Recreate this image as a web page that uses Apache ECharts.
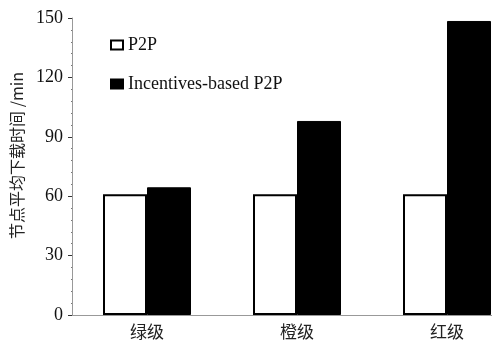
<!DOCTYPE html>
<html>
<head>
<meta charset="utf-8">
<script src="https://cdn.jsdelivr.net/npm/echarts@6/dist/echarts.min.js"></script>
<style>html,body{margin:0;padding:0;background:#fff}#c{width:492px;height:344px}</style>
</head>
<body>
<div id="c"></div>
<script>
var categories = ['绿级', '橙级', '红级'];
var p2p = [61, 61, 61];
var incentive = [64.5, 98, 148.5];
var seriesNames = ['P2P', 'Incentives-based P2P'];
var yTicks = [0, 30, 60, 90, 120, 150];

var chart = echarts.init(document.getElementById('c'));
chart.setOption({
  animation: false,
  backgroundColor: '#fff',
  grid: { left: 72, top: 18, width: 450, height: 297, outerBoundsMode: 'none', containLabel: false },
  legend: {
    orient: 'vertical', left: 105, top: 31,
    itemWidth: 12, itemHeight: 9, itemGap: 21, icon: 'rect',
    textStyle: { fontFamily: 'Liberation Serif', fontSize: 18, color: '#111' },
    data: seriesNames
  },
  xAxis: {
    type: 'category', data: categories,
    axisLine: { lineStyle: { color: '#999', width: 1 } },
    axisTick: { show: false },
    axisLabel: { margin: 8, fontFamily: 'Noto Sans CJK SC', fontSize: 17, color: '#222' }
  },
  yAxis: {
    type: 'value', min: yTicks[0], max: yTicks[yTicks.length - 1], interval: 30,
    name: '节点平均下载时间 /min', nameLocation: 'middle', nameGap: 31,
    nameTextStyle: { fontFamily: 'Noto Sans CJK SC', fontSize: 16, color: '#222', padding: [0, 0, 0, 22] },
    axisLine: { show: true, lineStyle: { color: '#999', width: 1 } },
    axisTick: { show: true, length: 4, lineStyle: { color: '#333' } },
    minorTick: { show: true, splitNumber: 5, length: 1, lineStyle: { color: '#777' } },
    splitLine: { show: false },
    axisLabel: { margin: 9, fontFamily: 'Liberation Serif', fontSize: 18, color: '#111' }
  },
  series: [
    { name: seriesNames[0], type: 'bar', data: p2p, barWidth: 44, barGap: '0%',
      itemStyle: { color: '#fff', borderColor: '#000', borderWidth: 2 } },
    { name: seriesNames[1], type: 'bar', data: incentive, barWidth: 44,
      itemStyle: { color: '#000', borderColor: '#000', borderWidth: 1 } }
  ]
});
</script>
</body>
</html>
